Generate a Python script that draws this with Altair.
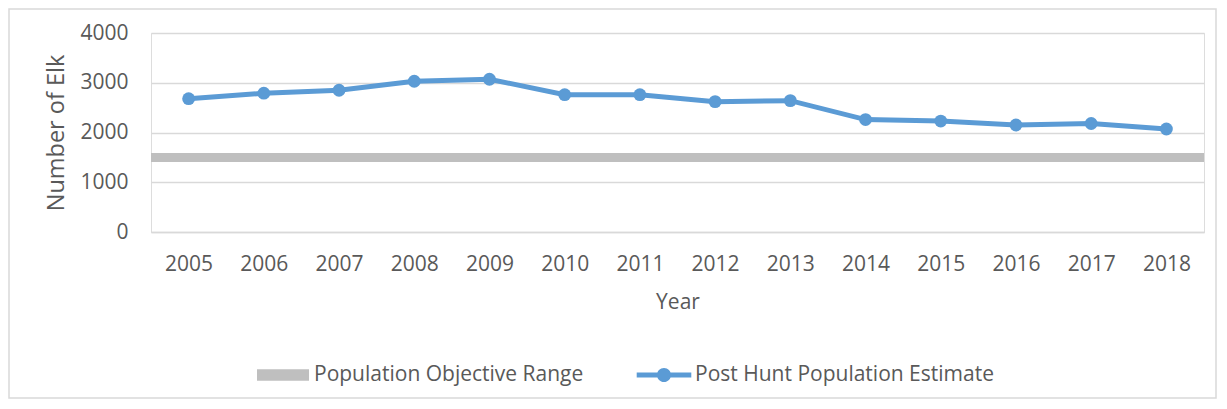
import altair as alt
import pandas as pd

years = [str(y) for y in range(2005, 2019)]
estimates = [2680, 2790, 2850, 3030, 3070, 2760, 2760, 2620, 2640, 2260, 2230, 2150, 2180, 2070]
objective_value = [1500]
series_names = ["Population Objective Range", "Post Hunt Population Estimate"]
series_colors = ["#bfbfbf", "#5b9bd5"]

W, H = 1053, 199
FONT = "Open Sans"
TXT = "#595959"

df = pd.DataFrame({"year": years, "value": estimates})
obj_df = pd.DataFrame({"value": objective_value})
leg_df = pd.DataFrame({"series": series_names, "year": [years[0], years[0]], "value": [0, 0]})

x_enc = alt.X(
    "year:O",
    sort=years,
    title="Year",
    axis=alt.Axis(
        labelAngle=0, ticks=False, domainColor="#d9d9d9", domainWidth=1.3, labelFontSize=21,
        labelColor=TXT, labelFont=FONT, labelPadding=21, titleFont=FONT,
        titleFontSize=21, titleFontWeight="normal", titleColor=TXT, titlePadding=17,
        grid=False,
    ),
)
y_scale = alt.Scale(domain=[0, 4000], nice=False)
y_enc = alt.Y(
    "value:Q",
    scale=y_scale,
    title="Number of Elk",
    axis=alt.Axis(
        values=[0, 1000, 2000, 3000, 4000], format="d", ticks=False, domain=False,
        gridColor="#d9d9d9", gridWidth=1.3, labelFontSize=21, labelColor=TXT,
        labelFont=FONT, labelPadding=23, titleFont=FONT, titleFontSize=23.5,
        titleFontWeight="normal", titleColor=TXT, titlePadding=11,
    ),
)

frame = alt.Chart(obj_df).mark_rect(fill=None, stroke="#d9d9d9", strokeWidth=1.5, clip=False).encode(
    x=alt.value(-142), x2=alt.value(W + 12), y=alt.value(-24), y2=alt.value(365)
)

band = alt.Chart(obj_df).mark_rule(color="#bfbfbf", strokeWidth=9).encode(
    y=alt.Y("value:Q", scale=y_scale), x=alt.value(0), x2=alt.value(W)
)

line = alt.Chart(df).mark_line(color="#5b9bd5", strokeWidth=5).encode(x=x_enc, y=y_enc)
pts = alt.Chart(df).mark_point(filled=True, color="#5b9bd5", size=165, opacity=1).encode(
    x=alt.X("year:O", sort=years), y=alt.Y("value:Q", scale=y_scale)
)

rect_path = "M-2,-0.45H2V0.45H-2Z"
line_path = ("M-2.1,-0.19H2.1V0.19H-2.1Z "
             "M0.54,0A0.54,0.54,0,1,1,-0.54,0A0.54,0.54,0,1,1,0.54,0Z")

def make_legend():
    return alt.Legend(
        title=None, orient="none", direction="horizontal", legendX=119, legendY=329,
        symbolSize=676, symbolOpacity=1, symbolStrokeWidth=0, labelOffset=18,
        labelFontSize=21, labelFont=FONT, labelColor=TXT, columnPadding=52,
        padding=0, labelLimit=400,
    )

legend_layer = alt.Chart(leg_df).mark_point(filled=True, opacity=0, size=1, strokeWidth=0).encode(
    x=alt.X("year:O", sort=years),
    y=alt.Y("value:Q", scale=y_scale),
    color=alt.Color(
        "series:N",
        scale=alt.Scale(domain=series_names, range=series_colors),
        legend=make_legend(),
    ),
    shape=alt.Shape(
        "series:N",
        scale=alt.Scale(domain=series_names, range=[rect_path, line_path]),
        legend=make_legend(),
    ),
)

chart = alt.layer(frame, band, line, pts, legend_layer).properties(
    width=W, height=H,
    autosize=alt.AutoSizeParams(type="none"),
    padding={"left": 143, "top": 25, "right": 14, "bottom": 168},
).configure_view(stroke="#5b9bd5", strokeWidth=1.3).configure(background="white")

chart.save("out.html", embed_options={"renderer": "svg", "actions": False})
